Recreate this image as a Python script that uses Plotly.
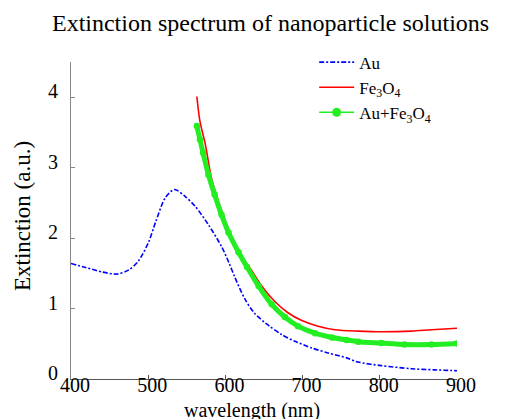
import plotly.graph_objects as go

# Au (dash-dot blue)
au_wl = [400, 420, 440, 460, 475, 487, 500, 510, 522, 534, 548, 561, 578, 595, 605, 612, 625, 638, 656, 673, 690, 712, 733, 757, 772, 802, 841, 871, 900]
au_ext = [1.64, 1.58, 1.52, 1.49, 1.55, 1.67, 1.93, 2.24, 2.57, 2.69, 2.59, 2.45, 2.19, 1.88, 1.64, 1.45, 1.14, 0.93, 0.76, 0.63, 0.535, 0.44, 0.37, 0.30, 0.24, 0.19, 0.146, 0.13, 0.118]

# Fe3O4 (red)
fe_wl = [563, 567, 574, 582, 591, 600, 612, 621, 634, 647, 664, 681, 699, 720, 742, 772, 802, 841, 867, 900]
fe_ext = [4.01, 3.66, 3.33, 2.85, 2.52, 2.24, 1.91, 1.74, 1.54, 1.32, 1.10, 0.94, 0.83, 0.75, 0.70, 0.68, 0.67, 0.68, 0.70, 0.72]

# Au + Fe3O4 (green with markers)
mix_wl = [563, 567, 571, 578, 586, 595, 604, 617, 628, 643, 660, 677, 694, 716, 738, 757, 772, 802, 832, 867, 900]
mix_ext = [3.59, 3.40, 3.21, 2.90, 2.62, 2.33, 2.08, 1.80, 1.59, 1.32, 1.06, 0.88, 0.75, 0.65, 0.59, 0.555, 0.53, 0.51, 0.49, 0.49, 0.505]

x_ticks = [400, 500, 600, 700, 800, 900]
y_ticks = [0, 1, 2, 3, 4]

SERIF = "Liberation Serif, Times New Roman, serif"

fig = go.Figure()
fig.add_trace(go.Scatter(x=au_wl, y=au_ext, mode="lines", name="Au",
                         line=dict(color="#0000FF", width=1.6, dash="5px,2px,2px,2px", shape="spline", smoothing=0.8)))
fig.add_trace(go.Scatter(x=fe_wl, y=fe_ext, mode="lines", name="Fe<sub>3</sub>O<sub>4</sub>",
                         line=dict(color="#FF0000", width=1.6, shape="spline", smoothing=0.8)))
fig.add_trace(go.Scatter(x=mix_wl, y=mix_ext, mode="lines+markers", showlegend=False,
                         line=dict(color="#22EE22", width=5, shape="spline", smoothing=0.8),
                         marker=dict(color="#22EE22", size=6.5)))
fig.add_trace(go.Scatter(x=[None], y=[None], mode="lines+markers", name="Au+Fe<sub>3</sub>O<sub>4</sub>",
                         line=dict(color="#22EE22", width=1.6),
                         marker=dict(color="#22EE22", size=9)))

fig.update_layout(
    width=505, height=419,
    margin=dict(l=63, r=56, t=54, b=48),
    paper_bgcolor="white", plot_bgcolor="white",
    font=dict(family=SERIF, size=20, color="black"),
    title=dict(text="Extinction spectrum of nanoparticle solutions", x=0.52, xanchor="center",
               y=1 - 15 / 419, yanchor="middle", font=dict(size=24, family=SERIF, color="black")),
    showlegend=True,
    legend=dict(x=0.63, y=1.055, xanchor="left", yanchor="top", bgcolor="rgba(0,0,0,0)",
                font=dict(size=17, family=SERIF), itemwidth=35, tracegroupgap=0),
    xaxis=dict(range=[400, 900], tickvals=x_ticks, showgrid=False, zeroline=False,
               showline=True, linecolor="#555555", linewidth=1.2, ticks="inside", ticklen=4,
               tickcolor="#555555", ticklabelstandoff=-12, ticklabelshift=4,
               tickfont=dict(size=20, family=SERIF)),
    yaxis=dict(range=[0, 4.5], tickvals=y_ticks, showgrid=False, zeroline=False,
               showline=True, linecolor="#888888", linewidth=1.2, ticks="inside", ticklen=4,
               tickcolor="#888888", ticklabelshift=-6, ticklabelstandoff=8,
               tickfont=dict(size=20, family=SERIF)),
    annotations=[
        dict(text="wavelength (nm)", xref="paper", yref="paper", x=(244 - 63) / 386, y=(371 - 402) / 317,
             xanchor="center", yanchor="middle", showarrow=False, font=dict(size=20, family=SERIF)),
        dict(text="Extinction (a.u.)", xref="paper", yref="paper", x=(14 - 63) / 386, y=(371 - 208) / 317,
             xanchor="center", yanchor="middle", showarrow=False, textangle=-90,
             font=dict(size=23, family=SERIF)),
    ],
)

fig.write_html("out.html")
